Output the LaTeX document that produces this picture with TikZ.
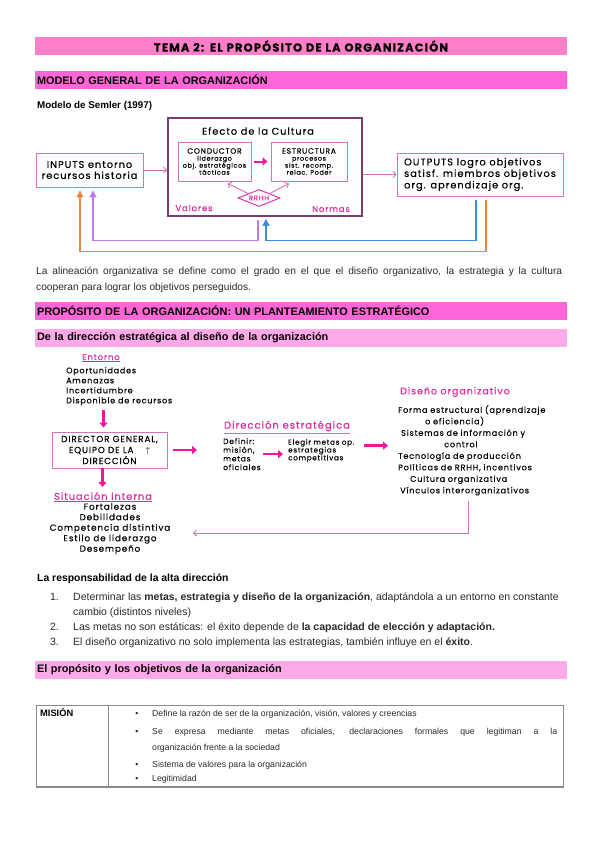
\documentclass[tikz,border=0pt]{standalone}
\usepackage{fontspec}
\usepackage{xcolor}
\usepackage{amssymb}
\usetikzlibrary{shapes.geometric,arrows.meta}
\setmainfont{Liberation Sans}
\newfontfamily\mano[LetterSpace=10,FakeBold=0.3]{Poppins}
\newcommand{\tam}[2]{\fontsize{#1}{#2}\selectfont}
\definecolor{rosatitulo}{HTML}{FF80C8}
\definecolor{rosabarra}{HTML}{FF66D8}
\definecolor{rosaclaro}{HTML}{FFAAE8}
\definecolor{fucsia}{HTML}{F2169A}
\definecolor{rosatexto}{HTML}{DA2E9E}
\definecolor{rosaborde}{HTML}{D474B4}
\definecolor{moradooscuro}{HTML}{7A3E6E}
\definecolor{naranja}{HTML}{EE8444}
\definecolor{lila}{HTML}{BE7DE6}
\definecolor{azul}{HTML}{3A8EE4}
\definecolor{texto}{HTML}{2A2A2A}
\definecolor{bordetabla}{HTML}{8A8A8A}

\begin{document}
\begin{tikzpicture}[x=1pt,y=1pt,
 barra/.style={fill=#1,minimum height=18pt,text width=528pt,inner xsep=2pt,align=left,font=\tam{10.9}{12}\bfseries},
 caja/.style={draw=rosaborde,line width=0.9pt,align=center},
 etiqueta/.style={text=rosatexto,font=\mano\tam{8.5}{9}},
 flechafina/.style={draw=rosaborde,line width=0.9pt,-{Straight Barb[length=3pt,width=6pt]}},
 flechagorda/.style={draw=fucsia,line width=2.4pt,-{Triangle[length=5pt,width=8pt]}},
 lazo/.style={line width=1.1pt,-{Triangle[length=7pt,width=7pt]}},
 cuerpo/.style={text=texto,font=\tam{10.5}{15}}]
 \tikzstyle{every node}+=[inner sep=0pt]
 \useasboundingbox (0,0) rectangle (599,-848);
 \fill[white] (0,0) rectangle (599,-848);

 \node[barra=rosatitulo,align=center,font=\mano\bfseries\tam{11.5}{12}] (tema) at (301,-46) {TEMA 2: EL PROPÓSITO DE LA ORGANIZACIÓN};
 \node[barra=rosabarra] (modelo) at (301,-80) {MODELO GENERAL DE LA ORGANIZACIÓN};
 \node[anchor=base west,font=\tam{9.8}{12}\bfseries] (semler) at (37,-108.5) {Modelo de Semler (1997)};

 \node[caja,minimum width=107pt,minimum height=34pt,font=\mano\tam{9.8}{11}] (inputs) at (89.5,-170) {INPUTS entorno\\recursos historia};
 \node[draw=moradooscuro,line width=1.6pt,minimum width=194pt,minimum height=98pt] (cultura) at (265,-167) {};
 \node[font=\mano\tam{9.8}{10}] (efecto) at (258,-131) {Efecto de la Cultura};
 \node[caja,minimum width=73pt,minimum height=39pt,font=\mano\tam{6.4}{7}] (conductor) at (214.5,-161.5) {{\tam{7.6}{8}CONDUCTOR}\\liderazgo\\obj. estratégicos\\tácticas};
 \node[caja,minimum width=76pt,minimum height=39pt,font=\mano\tam{6.4}{7}] (estructura) at (309,-161.5) {{\tam{7.6}{8}ESTRUCTURA}\\procesos\\sist. recomp.\\relac. Poder};
 \node[draw=rosatexto,line width=0.9pt,diamond,aspect=2.5,minimum width=42pt,minimum height=17pt,text=rosatexto,font=\mano\tam{7}{7}] (rrhh) at (259,-198) {RRHH};
 \node[etiqueta] (valores) at (194,-208) {Valores};
 \node[etiqueta] (normas) at (331,-209) {Normas};
 \node[caja,minimum width=166pt,minimum height=43pt,align=left,font=\mano\tam{9.8}{11.5}] (outputs) at (480,-174.5) {OUTPUTS logro objetivos\\satisf. miembros objetivos\\org. aprendizaje org.};

 \draw[flechagorda,line width=2pt,shorten <=3pt,shorten >=3pt] (conductor.east) -- (estructura.west);
 \draw[flechafina] (rrhh.north west) -- ([xshift=13pt,yshift=-2pt]conductor.south);
 \draw[flechafina] (rrhh.north east) -- ([xshift=-20pt,yshift=-2pt]estructura.south);
 \draw[flechafina] (inputs.east) -- (inputs.east -| cultura.west);
 \draw[flechafina] (cultura.east |- outputs.west) -- (outputs.west);
 \draw[lazo,naranja] ([xshift=6pt,yshift=-4pt]outputs.south) -- ++(0,-51) -| ([xshift=-9.5pt,yshift=-3pt]inputs.south);
 \draw[lazo,lila] ([xshift=-7pt,yshift=-3pt]cultura.south) -- ++(0,-21) -| ([xshift=3.5pt,yshift=-3pt]inputs.south);
 \draw[lazo,azul] ([xshift=-4pt,yshift=-4pt]outputs.south) -- ++(0,-40) -| ([xshift=1pt,yshift=-2pt]cultura.south);

 \node[cuerpo,anchor=base west,font=\tam{10.2}{15}] (alineacion) at (36,-274) {\hbox to 526pt{La alineación organizativa se define como el grado en el que el diseño organizativo, la estrategia y la cultura}};
 \node[cuerpo,anchor=base west,font=\tam{10.2}{15}] (alineacion2) at (36,-290) {cooperan para lograr los objetivos perseguidos.};

 \node[barra=rosabarra] (proposito) at (301,-310.5) {PROPÓSITO DE LA ORGANIZACIÓN: UN PLANTEAMIENTO ESTRATÉGICO};
 \node[barra=rosaclaro] (dirbarra) at (301,-338) {De la dirección estratégica al diseño de la organización};

 \node[etiqueta] (entorno) at (101,-358) {\underline{Entorno}};
 \node[anchor=north west,align=left,font=\mano\tam{8}{10}] (entornolista) at (66,-367) {Oportunidades\\Amenazas\\Incertidumbre\\Disponible de recursos};
 \node[caja,minimum width=115pt,minimum height=36pt,font=\mano\tam{8.8}{11}] (director) at (109.5,-450) {DIRECTOR GENERAL,\\EQUIPO DE LA \quad$\uparrow$\\DIRECCIÓN};
 \node[etiqueta,font=\mano\tam{9.8}{10}] (situacion) at (103,-497) {\underline{Situación interna}};
 \node[anchor=north,align=center,font=\mano\tam{8.8}{10.5}] (sitlista) at (110,-503) {Fortalezas\\Debilidades\\Competencia distintiva\\Estilo de liderazgo\\Desempeño};
 \node[etiqueta,font=\mano\tam{10}{10}] (direccion) at (287,-426) {Dirección estratégica};
 \node[anchor=north west,text width=36pt,align=left,font=\mano\tam{7.6}{8.7}] (definir) at (223,-438) {Definir:\\misión,\\metas\\oficiales};
 \node[anchor=north west,text width=72pt,align=left,font=\mano\tam{7.2}{7.8}] (elegir) at (288,-439) {Elegir metas op.\\estrategias\\competitivas};
 \node[etiqueta,anchor=west,font=\mano\tam{9.5}{10}] (diseno) at (400,-392) {Diseño organizativo};
 \node[anchor=north west,text width=160pt,align=left,font=\mano\tam{8.1}{11.5}] (disenolista) at (398,-405) {Forma estructural (aprendizaje\\\hspace*{27pt}o eficiencia)\\\hspace*{3pt}Sistemas de información y\\\hspace*{46pt}control\\Tecnología de producción\\Políticas de RRHH, incentivos\\\hspace*{12pt}Cultura organizativa\\\hspace*{2pt}Vínculos interorganizativos};
 \coordinate (ejeentorno) at ([xshift=-6pt]director.north);
 \coordinate (ejeabajo) at ([xshift=-7pt]director.south);
 \coordinate (salidaelegir) at ([yshift=5pt]elegir.east);
 \coordinate (finretorno) at (193,-533);

 \draw[rosaborde,line width=1.3pt] ([yshift=-2pt]direccion.south west) -- ([yshift=-2pt]direccion.south east);
 \draw[flechagorda,shorten <=4pt,shorten >=4pt] (ejeentorno |- entornolista.south) -- (ejeentorno);
 \draw[flechagorda,shorten >=5pt] (ejeabajo) -- (ejeabajo |- situacion.north);
 \draw[flechagorda,shorten <=6pt,shorten >=26pt] (director.east) -- (director.east -| definir.west);
 \draw[flechagorda,line width=2pt,shorten <=4pt,shorten >=5pt] (definir.east) -- (definir.east -| elegir.west);
 \draw[flechagorda,shorten <=4pt,shorten >=10pt] (salidaelegir) -- (salidaelegir -| disenolista.west);
 \draw[flechafina] ([xshift=-10pt,yshift=-5pt]disenolista.south) |- (finretorno);

 \node[anchor=base west,font=\tam{10.4}{12}\bfseries] (responsabilidad) at (37,-581.5) {La responsabilidad de la alta dirección};
 \node[cuerpo,anchor=base east] (n1) at (59,-600) {1.};
 \node[cuerpo,anchor=base west] (item1) at (73,-600) {Determinar las \textbf{metas, estrategia y diseño de la organización}, adaptándola a un entorno en constante};
 \node[cuerpo,anchor=base west] (item1b) at (73,-615) {cambio (distintos niveles)};
 \node[cuerpo,anchor=base east] (n2) at (59,-630) {2.};
 \node[cuerpo,anchor=base west] (item2) at (73,-630) {Las metas no son estáticas: el éxito depende de \textbf{la capacidad de elección y adaptación.}};
 \node[cuerpo,anchor=base east] (n3) at (59,-645) {3.};
 \node[cuerpo,anchor=base west] (item3) at (73,-645) {El diseño organizativo no solo implementa las estrategias, también influye en el \textbf{éxito}.};

 \node[barra=rosaclaro] (objetivos) at (301,-670) {El propósito y los objetivos de la organización};

 \draw[bordetabla,line width=0.7pt] (36,-705) rectangle (563,-787);
 \draw[bordetabla,line width=0.7pt] (108,-705) -- (108,-787);
 \draw[bordetabla,line width=1.2pt] (36,-787) -- (563,-787);
 \node[anchor=base west,font=\tam{9.3}{11}\bfseries] (mision) at (40,-716) {MISIÓN};
 \foreach \y/\nombre in {716/b1,734/b2,767/b3,781/b4}
  \node[cuerpo,anchor=base,font=\tam{8.7}{11}] (\nombre) at (137,-\y) {\textbullet};
 \node[cuerpo,anchor=base west,font=\tam{8.7}{11}] (t1) at (152,-716) {Define la razón de ser de la organización, visión, valores y creencias};
 \node[cuerpo,anchor=base west,font=\tam{8.7}{11}] (t2) at (152,-734) {\hbox to 405pt{Se expresa mediante metas oficiales, declaraciones formales que legitiman a la}};
 \node[cuerpo,anchor=base west,font=\tam{8.7}{11}] (t2b) at (152,-750) {organización frente a la sociedad};
 \node[cuerpo,anchor=base west,font=\tam{8.7}{11}] (t3) at (152,-767) {Sistema de valores para la organización};
 \node[cuerpo,anchor=base west,font=\tam{8.7}{11}] (t4) at (152,-781) {Legitimidad};
\end{tikzpicture}
\end{document}
